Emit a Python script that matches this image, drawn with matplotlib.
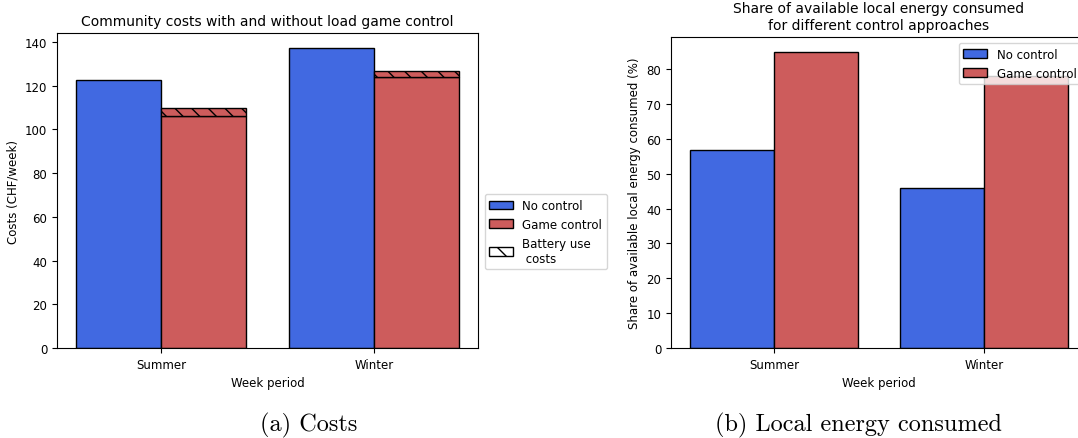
import numpy as np
import matplotlib.pyplot as plt
from matplotlib.patches import Patch

# Data
periods = ['Summer', 'Winter']
cost_no_control = [122.5, 137.2]
cost_game_control = [106.0, 123.9]
cost_battery = [3.6, 2.6]
share_no_control = [56.8, 46.0]
share_game_control = [85.0, 78.0]

blue = 'royalblue'
red = 'indianred'
x = np.arange(len(periods))
w = 0.4
fs = 8.5

fig = plt.figure(figsize=(10.78, 4.39), dpi=100)

# (a) costs
ax1 = fig.add_axes([0.0529, 0.205, 0.3905, 0.7175])
ax1.bar(x - w/2, cost_no_control, w, color=blue, edgecolor='black')
ax1.bar(x + w/2, cost_game_control, w, color=red, edgecolor='black')
ax1.bar(x + w/2, cost_battery, w, bottom=cost_game_control, color=red,
        edgecolor='black', hatch='\\\\')
ax1.set_xticks(x)
ax1.set_xticklabels(periods)
ax1.set_xlabel('Week period', fontsize=fs)
ax1.set_ylabel('Costs (CHF/week)', fontsize=fs)
ax1.set_title('Community costs with and without load game control', fontsize=10)
ax1.tick_params(labelsize=fs)
handles = [Patch(facecolor=blue, edgecolor='black', label='No control'),
           Patch(facecolor=red, edgecolor='black', label='Game control'),
           Patch(facecolor='white', edgecolor='black', hatch='\\\\',
                 label='Battery use\n costs')]
fig.legend(handles=handles, loc='center left', bbox_to_anchor=(0.444, 0.47),
           fontsize=fs)

# (b) local energy consumed
ax2 = fig.add_axes([0.6224, 0.205, 0.386, 0.7084])
ax2.bar(x - w/2, share_no_control, w, color=blue, edgecolor='black', label='No control')
ax2.bar(x + w/2, share_game_control, w, color=red, edgecolor='black', label='Game control')
ax2.set_xlim(-0.49, 1.49)
ax2.set_xticks(x)
ax2.set_xticklabels(periods)
ax2.set_xlabel('Week period', fontsize=fs)
ax2.set_ylabel('Share of available local energy consumed (%)', fontsize=fs)
ax2.set_title('Share of available local energy consumed\nfor different control approaches',
              fontsize=10)
ax2.tick_params(labelsize=fs)
ax2.legend(loc='upper right', fontsize=fs)

# captions
fig.text(0.286, 0.018, '(a) Costs', family='cmr10', fontsize=17.5, ha='center')
fig.text(0.796, 0.018, '(b) Local energy consumed', family='cmr10', fontsize=17.5,
         ha='center')

fig.savefig('out.png', dpi=100)
